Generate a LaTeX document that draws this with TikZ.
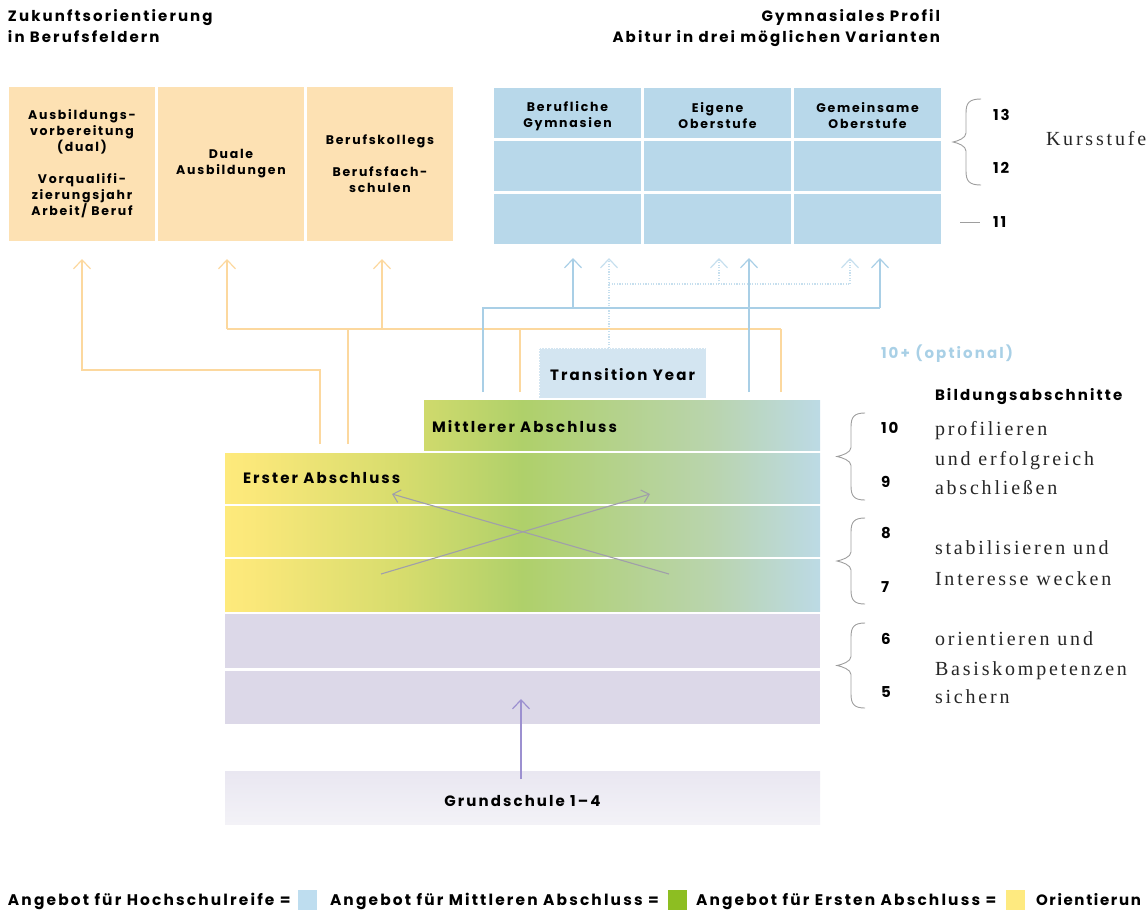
\documentclass[tikz,border=0pt]{standalone}
\usepackage{fontspec}
\setmainfont{Poppins}
\newfontfamily\pb{Poppins}[LetterSpace=14]
\newfontfamily\pbn{Poppins}[LetterSpace=11]
\newfontfamily\srf{Liberation Serif}[LetterSpace=14]
\usetikzlibrary{arrows.meta}
\definecolor{orbox}{HTML}{FDE1B3}
\definecolor{blbox}{HTML}{B8D8EA}
\definecolor{orln}{HTML}{FCD89E}
\definecolor{blln}{HTML}{A9CFE6}
\definecolor{bldot}{HTML}{C6DFEE}
\definecolor{tybox}{HTML}{D3E5F1}
\definecolor{purp}{HTML}{DCD8E8}
\definecolor{purln}{HTML}{9C90D0}
\definecolor{xln}{HTML}{A09FAA}
\definecolor{brc}{HTML}{9E9E9E}
\definecolor{opt}{HTML}{A9D0E6}
\definecolor{lgblue}{HTML}{BEDDEF}
\definecolor{lggreen}{HTML}{8DBE22}
\definecolor{lgyel}{HTML}{FEEA80}
\definecolor{gsA}{HTML}{E9E7F1}
\definecolor{gsB}{HTML}{F3F2F7}
\definecolor{g0}{HTML}{FEEA7C}
\definecolor{g1}{HTML}{FBE87A}
\definecolor{g2}{HTML}{D6DC6D}
\definecolor{g3}{HTML}{AFD06A}
\definecolor{g4}{HTML}{B4D28C}
\definecolor{g5}{HTML}{B9D4AE}
\definecolor{g6}{HTML}{BCDAE5}
\pgfdeclarehorizontalshading{rowgrad}{100bp}{color(0bp)=(g0); color(25bp)=(g0); color(27bp)=(g1); color(40bp)=(g2); color(50bp)=(g3); color(58bp)=(g4); color(66bp)=(g5); color(75bp)=(g6); color(100bp)=(g6)}
\newcommand\drawbrace[5]{%
 \draw[bracestyle] (#1,#4) .. controls ({#2+3},#4) and (#2,{#4+4}) .. (#2,{#4+14}) -- (#2,{(#4+#5)/2-9}) .. controls (#2,{(#4+#5)/2-4}) and ({#3+5},{(#4+#5)/2-1}) .. (#3,{(#4+#5)/2}) .. controls ({#3+5},{(#4+#5)/2+1}) and (#2,{(#4+#5)/2+4}) .. (#2,{(#4+#5)/2+9}) -- (#2,{#5-14}) .. controls (#2,{#5-4}) and ({#2+3},#5) .. (#1,#5);}
\begin{document}
\begin{tikzpicture}[x=1pt,y=-1pt,
  every node/.style={inner sep=0pt, outer sep=0pt},
  lbl/.style={font=\pb\bfseries\fontsize{12.5}{16}\selectfont, align=center},
  obox/.style={lbl, fill=orbox, minimum width=146pt, minimum height=154pt},
  bbox/.style={lbl, fill=blbox, minimum width=147pt, minimum height=50pt},
  gradbar/.style={minimum height=50pt, path picture={\shade[shading=rowgrad] ([xshift=-595pt]path picture bounding box.north east) rectangle (path picture bounding box.south east);}},
  purbar/.style={fill=purp, minimum width=595pt, minimum height=54pt},
  head/.style={font=\pb\bfseries\fontsize{15}{20}\selectfont},
  barlbl/.style={font=\pb\bfseries\fontsize{15}{18}\selectfont},
  num/.style={font=\pb\bfseries\fontsize{15}{16}\selectfont, anchor=base west},
  srft/.style={font=\srf\fontsize{20}{30}\selectfont, anchor=base west, text=black!85},
  legtxt/.style={font=\pb\bfseries\fontsize{15.4}{18}\selectfont, anchor=base west},
  legsq/.style={minimum width=19pt, minimum height=20pt},
  bracestyle/.style={draw=brc, line width=0.9pt},
  tip/.style={-{Straight Barb[length=9pt,width=17pt]}},
  oline/.style={draw=orln, line width=1.2pt},
  bline/.style={draw=blln, line width=1.2pt},
  dline/.style={draw=bldot, line width=1.2pt, dash pattern=on 1.2pt off 1.4pt},
  xline/.style={draw=xln, line width=1.1pt, -{Straight Barb[length=7pt,width=13pt]}},
]
\useasboundingbox (0,0) rectangle (1147,911);
% headers
\node[head, anchor=base west] (h1) at (8,21) {Zukunftsorientierung};
\node[head, anchor=base west] (h2) at (8,42) {in Berufsfeldern};
\node[head, anchor=base east] (h3) at (940,21) {Gymnasiales Profil};
\node[head, anchor=base east] (h4) at (940,42) {Abitur in drei möglichen Varianten};
% orange boxes
\node[obox] (o1) at (82,164) {Ausbildungs-\\vorbereitung\\(dual)\\[16pt]Vorqualifi-\\zierungsjahr\\Arbeit/ Beruf};
\node[obox] (o2) at (231,164) {Duale\\Ausbildungen};
\node[obox] (o3) at (380,164) {Berufskollegs\\[16pt]Berufsfach-\\schulen};
% blue boxes
\node[bbox] (b1a) at (567.5,113) {};
\node[bbox] (b2a) at (717.5,113) {};
\node[bbox] (b3a) at (867.5,113) {};
\node[lbl] (b1t) at (567.5,116) {Berufliche\\Gymnasien};
\node[lbl] (b2t) at (717.5,116) {Eigene\\Oberstufe};
\node[lbl] (b3t) at (867.5,116) {Gemeinsame\\Oberstufe};
\node[bbox] (b1b) at (567.5,166) {};
\node[bbox] (b2b) at (717.5,166) {};
\node[bbox] (b3b) at (867.5,166) {};
\node[bbox] (b1c) at (567.5,219) {};
\node[bbox] (b2c) at (717.5,219) {};
\node[bbox] (b3c) at (867.5,219) {};
% Kursstufe
\drawbrace{981}{966}{953}{99}{185}
\draw[draw=brc, line width=0.9pt] (960,222) -- (980,222);
\node[num] (n13) at (993,120) {13};
\node[num] (n12) at (993,173) {12};
\node[num] (n11) at (993,227) {11};
\node[srft] (kurs) at (1046,145) {Kursstufe};
% bars
\node[gradbar, minimum width=396pt] (mab) at (622,425) {};
\node[barlbl, anchor=base west] (mabt) at (432,432) {Mittlerer Abschluss};
\node[gradbar, minimum width=595pt] (r9) at (522.5,478) {};
\node[gradbar, minimum width=595pt] (r8) at (522.5,531) {};
\node[gradbar, minimum width=595pt, minimum height=52pt] (r7) at (522.5,585) {};
\node[barlbl, anchor=base west] (eabt) at (243,483) {Erster Abschluss};
\node[purbar] (r6) at (522.5,641) {};
\node[purbar, minimum height=53pt] (r5) at (522.5,697.5) {};
\node[minimum width=595pt, minimum height=53pt, top color=gsA, bottom color=gsB] (gs) at (522.5,797.5) {};
\node[barlbl, anchor=base] (gst) at (522.5,806) {Grundschule 1–4};
% transition year
\node[fill=tybox, draw=white, dotted, line width=0.8pt, minimum width=167pt, minimum height=50pt] (ty) at (622.5,373) {};
\node[barlbl, anchor=base] (tyt) at (622.5,380) {Transition Year};
% coordinates
\coordinate (oa) at (320,444);
\coordinate (ob) at (348,444);
\coordinate (oc) at (520,392);
\coordinate (od) at (781,392);
\coordinate (t1) at (82,259);
\coordinate (t2) at (227,259);
\coordinate (t3) at (382,259);
\coordinate (ba) at (483,392);
\coordinate (bb) at (749,392);
\coordinate (u1) at (573,258);
\coordinate (u2) at (749,258);
\coordinate (u3) at (880,258);
\coordinate (v1) at (609,258);
\coordinate (v2) at (719,258);
\coordinate (v3) at (850,258);
% orange connectors
\draw[oline, tip] (oa) -- (320,370) -- (82,370) -- (t1);
\draw[oline] (ob) -- (348,329);
\draw[oline] (227,329) -- (781,329);
\draw[oline, tip] (227,329) -- (t2);
\draw[oline, tip] (382,329) -- (t3);
\draw[oline] (oc) -- (520,329);
\draw[oline] (od) -- (781,329);
% blue connectors
\draw[dline] (609,284) -- (850,284);
\draw[dline, tip] (ty.north -| v1) -- (v1);
\draw[dline, tip] (719,284) -- (v2);
\draw[dline, tip] (850,284) -- (v3);
\draw[bline] (ba) -- (483,308) -- (880,308);
\draw[bline, tip] (573,308) -- (u1);
\draw[bline, tip] (880,308) -- (u3);
\draw[bline, tip] (bb) -- (u2);
% cross arrows
\coordinate (x1) at (381,574);
\coordinate (x2) at (669,574);
\coordinate (x1t) at (650,494);
\coordinate (x2t) at (392,494);
\draw[xline] (x1) -- (x1t);
\draw[xline] (x2) -- (x2t);
% purple arrow
\coordinate (p1) at (521,779);
\coordinate (p2) at (521,699);
\draw[draw=purln, line width=1.2pt, tip] (p1) -- (p2);
% right side
\node[font=\pb\bfseries\fontsize{15}{18}\selectfont, text=opt, anchor=base west] (opt) at (881,358) {10+ (optional)};
\node[font=\pb\bfseries\fontsize{15}{18}\selectfont, anchor=base west] (bild) at (935,400) {Bildungsabschnitte};
\drawbrace{865}{851}{837}{413}{500}
\drawbrace{865}{851}{837}{518}{604}
\drawbrace{865}{851}{837}{623}{708}
\node[num] (n10) at (881,433) {10};
\node[num] (n9) at (881,487) {9};
\node[num] (n8) at (881,538) {8};
\node[num] (n7) at (881,592) {7};
\node[num] (n6) at (881,644) {6};
\node[num] (n5) at (881,697) {5};
\node[srft] (s1) at (935,435) {profilieren};
\node[srft] (s2) at (935,465) {und erfolgreich};
\node[srft] (s3) at (935,494) {abschließen};
\node[srft] (s4) at (935,554) {stabilisieren und};
\node[srft] (s5) at (935,585) {Interesse wecken};
\node[srft] (s6) at (935,645) {orientieren und};
\node[srft] (s7) at (935,675) {Basiskompetenzen};
\node[srft] (s8) at (935,703) {sichern};
% legend
\node[legtxt] (l1) at (8,905) {Angebot für Hochschulreife =};
\node[legsq, fill=lgblue] (q1) at (307.5,900) {};
\node[legtxt] (l2) at (330,905) {Angebot für Mittleren Abschluss =};
\node[legsq, fill=lggreen] (q2) at (677.5,900) {};
\node[legtxt] (l3) at (696,905) {Angebot für Ersten Abschluss =};
\node[legsq, fill=lgyel] (q3) at (1015.5,900) {};
\node[legtxt, font=\pbn\bfseries\fontsize{15}{18}\selectfont] (l4) at (1036,905) {Orientierun};
\end{tikzpicture}
\end{document}
